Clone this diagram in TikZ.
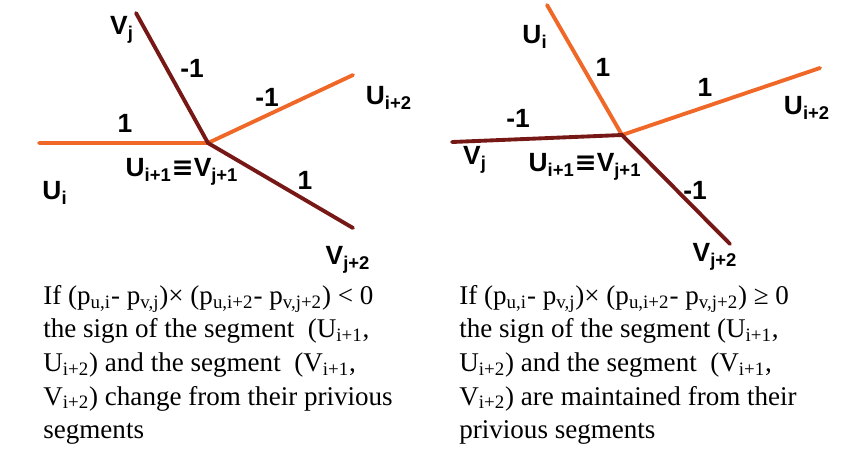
\documentclass[tikz,border=0pt]{standalone}
\usepackage{fontspec}
\setmainfont{Liberation Serif}
\setsansfont{Liberation Sans}
\newfontfamily\eqfont{DejaVu Sans}
\definecolor{segor}{RGB}{240,104,40}
\definecolor{segdk}{RGB}{118,24,22}
\tikzset{
  oseg/.style={draw=segor, line width=2.2pt, line cap=round},
  dseg/.style={draw=segdk, line width=2.2pt, line cap=round},
  lab/.style={font=\sffamily\bfseries\fontsize{15}{17}\selectfont, inner sep=0pt},
  para/.style={font=\fontsize{15.4}{19.1}\selectfont, align=left, anchor=north west, inner sep=0pt},
  pt/.style={inner sep=0pt, minimum size=0pt}
}
\newcommand\sbx[1]{\textsubscript{#1}}
\newcommand\eqv{{\eqfont\bfseries ≡}}
\begin{document}
\begin{tikzpicture}[x=0.02cm, y=-0.02cm]
\useasboundingbox (0,0) rectangle (860,457);
% ---- left diagram ----
\coordinate (lc) at (208,143);
\coordinate (lui) at (39,143);
\coordinate (lu2) at (353,75);
\coordinate (lvj) at (136,13);
\coordinate (lv2) at (353,228);
\draw[oseg] (lui) -- (lc) -- (lu2);
\draw[dseg] (lvj) -- (lc) -- (lv2);
\node[lab] (lVj) at (122,30) {V\sbx{j}};
\node[lab] (lm1a) at (192,68) {-1};
\node[lab] (lm1b) at (267,97) {-1};
\node[lab] (l1a) at (125,123) {1};
\node[lab] (lUi2) at (389,98) {U\sbx{i+2}};
\node[lab] (leq) at (182,172) {U\sbx{i+1}\eqv V\sbx{j+1}};
\node[lab] (lUi) at (55,193) {U\sbx{i}};
\node[lab] (l1b) at (305,180) {1};
\node[lab] (lVj2) at (348,260) {V\sbx{j+2}};
% ---- right diagram ----
\coordinate (rc) at (622,135);
\coordinate (rui) at (547,5);
\coordinate (ru2) at (820,68);
\coordinate (rvj) at (452,142);
\coordinate (rv2) at (730,244);
\draw[oseg] (rui) -- (rc) -- (ru2);
\draw[dseg] (rvj) -- (rc) -- (rv2);
\node[lab] (rUi) at (535,37) {U\sbx{i}};
\node[lab] (r1a) at (603,67) {1};
\node[lab] (r1b) at (705,87) {1};
\node[lab] (rUi2) at (807,108) {U\sbx{i+2}};
\node[lab] (rm1a) at (518,118) {-1};
\node[lab] (rVj) at (475,160) {V\sbx{j}};
\node[lab] (req) at (585,167) {U\sbx{i+1}\eqv V\sbx{j+1}};
\node[lab] (rm1b) at (695,190) {-1};
\node[lab] (rVj2) at (715,257) {V\sbx{j+2}};
% ---- texts ----
\node[para] (ltext) at (43,285) {If (p\sbx{u,i}- p\sbx{v,j})× (p\sbx{u,i+2}- p\sbx{v,j+2}) < 0\\
the sign of the segment\ \ (U\sbx{i+1},\\
U\sbx{i+2}) and the segment\ \ (V\sbx{i+1},\\
V\sbx{i+2}) change from their privious\\
segments};
\node[para] (rtext) at (459,285) {If (p\sbx{u,i}- p\sbx{v,j})× (p\sbx{u,i+2}- p\sbx{v,j+2}) ≥ 0\\
the sign of the segment (U\sbx{i+1},\\
U\sbx{i+2}) and the segment\ \ (V\sbx{i+1},\\
V\sbx{i+2}) are maintained from their\\
privious segments};
\end{tikzpicture}
\end{document}
